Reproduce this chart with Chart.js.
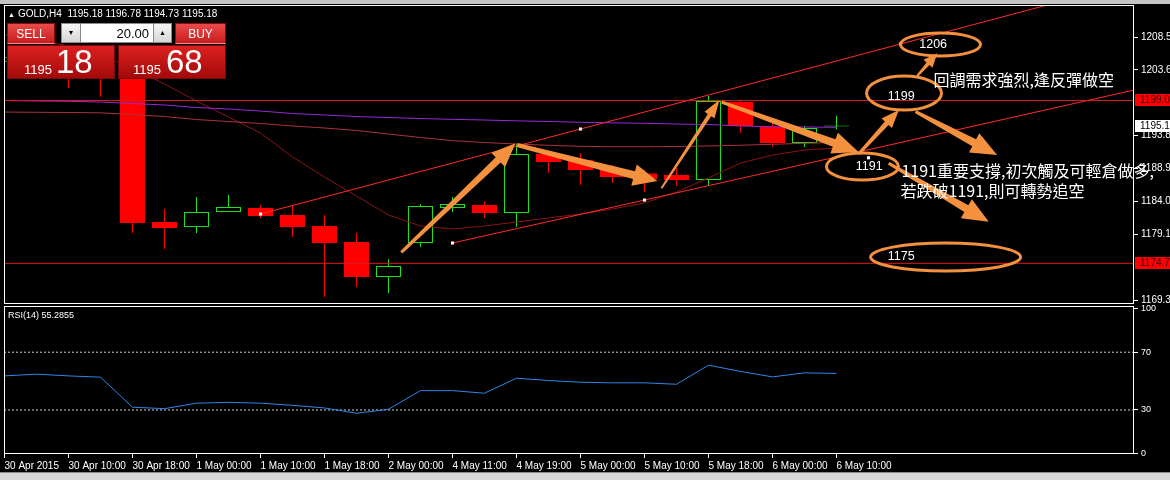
<!DOCTYPE html>
<html lang="zh-Hant">
<head>
<meta charset="utf-8">
<title>GOLD,H4</title>
<script src="https://cdn.jsdelivr.net/npm/chart.js@4.4.1/dist/chart.umd.min.js"></script>
<style>
  html, body { margin: 0; padding: 0; background: #000; }
  #wrap { position: relative; width: 1170px; height: 480px; overflow: hidden; background: #000;
          font-family: "Liberation Sans", Arial, sans-serif; color: #fff; }
  canvas { position: absolute; left: 0; }
  #mainChart { top: 0; }
  #rsiChart { top: 305px; }
  #topStrip { position: absolute; left: 0; top: 0; width: 1170px; height: 4px; background: #c4c4c4; }
  #bottomStrip { position: absolute; left: 0; top: 472px; width: 1170px; height: 8px; background: #d8d8d8;
                 border-top: 1px solid #8c8c8c; box-sizing: border-box; }
  #header { position: absolute; left: 8px; top: 8px; font-size: 10px; line-height: 12px; white-space: nowrap; }
  #header .tri { font-size: 7px; margin-right: 3px; }
  #rsiTitle { position: absolute; left: 8px; top: 310px; font-size: 9px; line-height: 11px; white-space: nowrap; }
  .btn { position: absolute; top: 23px; height: 21px; line-height: 20px; text-align: center; font-size: 12px; color: #fff;
         background: linear-gradient(#e84a4a, #c91d1d); border: 1px solid #8e0b0b; border-bottom-color: #f08a8a; box-sizing: border-box; }
  #sellBtn { left: 7px; width: 48px; }
  #buyBtn { left: 175px; width: 51px; }
  .spin { position: absolute; top: 23px; height: 20px; background: linear-gradient(#f6f6f6, #d6d6d6); border: 1px solid #8a8a8a;
          box-sizing: border-box; color: #000; font-size: 7px; text-align: center; line-height: 18px; }
  #spinDown { left: 61px; width: 20px; }
  #spinUp { left: 153px; width: 19px; }
  #lots { position: absolute; left: 81px; top: 23px; width: 72px; height: 20px; background: #fff; color: #000; font-size: 13px;
          line-height: 19px; text-align: right; padding-right: 4px; box-sizing: border-box;
          border-top: 1px solid #8a8a8a; border-bottom: 1px solid #8a8a8a; }
  .quote { position: absolute; top: 45px; width: 108px; height: 34px; background: linear-gradient(#dc2020, #a30a0a);
           border: 1px solid #7d0606; box-sizing: border-box; }
  .quote span { position: absolute; color: #fff; white-space: nowrap; }
  .quote .small { top: 17px; font-size: 13px; line-height: 13px; }
  .quote .big { top: -1px; font-size: 33px; line-height: 33px; }
  #sellQuote { left: 7px; }
  #buyQuote { left: 118px; }
  #sellQuote .small { left: 16px; }
  #sellQuote .big { left: 48px; }
  #buyQuote .small { left: 14px; }
  #buyQuote .big { left: 47px; }
</style>
</head>
<body>
<div id="wrap">
  <canvas id="mainChart" width="1170" height="305"></canvas>
  <canvas id="rsiChart" width="1170" height="167"></canvas>
  <div id="topStrip"></div>
  <div id="bottomStrip"></div>
  <div id="header"><span class="tri">▲</span>GOLD,H4&nbsp; 1195.18 1196.78 1194.73 1195.18</div>
  <div class="btn" id="sellBtn">SELL</div>
  <div class="spin" id="spinDown">▼</div>
  <div id="lots">20.00</div>
  <div class="spin" id="spinUp">▲</div>
  <div class="btn" id="buyBtn">BUY</div>
  <div class="quote" id="sellQuote"><span class="small">1195</span><span class="big">18</span></div>
  <div class="quote" id="buyQuote"><span class="small">1195</span><span class="big">68</span></div>
  <div id="rsiTitle">RSI(14) 55.2855</div>
</div>
<script>
// bar times shown on the axis (every second H4 bar)
const timeLabels = ['30 Apr 2015', '30 Apr 10:00', '30 Apr 18:00', '1 May 00:00', '1 May 10:00', '1 May 18:00',
  '2 May 00:00', '4 May 11:00', '4 May 19:00', '5 May 00:00', '5 May 10:00', '5 May 18:00', '6 May 00:00', '6 May 10:00'];
const labelBars = [0, 2, 4, 6, 8, 10, 12, 14, 16, 18, 20, 22, 24, 26];

// GOLD H4 candles
const opens  = [1204.8, 1205.5, 1204.6, 1203.2, 1202.6, 1180.93, 1180.18, 1182.42, 1183.02, 1181.97, 1180.33, 1177.95, 1172.73, 1177.80,
  1183.02, 1183.46, 1182.27, 1191.06, 1190.17, 1188.83, 1188.2, 1187.93, 1187.19, 1198.81, 1195.09, 1192.70, 1195.18];
const highs  = [1206.2, 1207.0, 1205.3, 1204.5, 1203.4, 1182.87, 1184.66, 1184.95, 1183.46, 1183.31, 1181.97, 1179.29, 1175.41, 1183.61,
  1184.66, 1184.06, 1192.55, 1191.21, 1191.21, 1189.42, 1188.68, 1188.98, 1199.71, 1199.11, 1195.83, 1195.24, 1196.78];
const lows   = [1203.6, 1203.9, 1200.9, 1199.56, 1179.29, 1176.91, 1179.29, 1182.42, 1181.53, 1178.69, 1169.75, 1171.24, 1170.35, 1177.20,
  1182.42, 1181.53, 1180.18, 1188.23, 1186.44, 1186.74, 1185.40, 1186.29, 1186.29, 1194.19, 1192.11, 1192.11, 1194.73];
const closes = [1205.5, 1204.6, 1203.2, 1202.6, 1180.78, 1180.03, 1182.42, 1183.17, 1181.82, 1180.18, 1177.80, 1172.73, 1174.37, 1183.31,
  1183.61, 1182.27, 1191.06, 1189.87, 1188.68, 1187.64, 1187.3, 1187.19, 1198.96, 1195.24, 1192.70, 1194.94, 1195.18];

// moving averages
const maSlow = [1199.04, 1198.96, 1198.92, 1198.81, 1198.59, 1198.37, 1197.99, 1197.77, 1197.47, 1197.10, 1196.88, 1196.65, 1196.50, 1196.35,
  1196.23, 1196.13, 1196.01, 1195.91, 1195.79, 1195.71, 1195.64, 1195.53, 1195.46, 1195.24, 1195.13, 1195.09, 1195.04];
const maMid = [1197.32, 1197.28, 1197.25, 1197.20, 1196.95, 1196.65, 1196.20, 1195.91, 1195.61, 1195.24, 1194.94, 1194.57, 1194.04, 1193.52,
  1193.05, 1192.78, 1192.55, 1192.36, 1192.21, 1192.15, 1192.15, 1192.18, 1192.26, 1192.37, 1192.51, 1192.66, 1192.78];
const maFast = [1208.80, 1208.05, 1207.16, 1205.82, 1203.88, 1201.50, 1198.96, 1196.58, 1194.19, 1190.62, 1187.64, 1184.80, 1181.97, 1180.33,
  1179.89, 1180.33, 1180.93, 1181.53, 1182.12, 1182.87, 1183.76, 1185.40, 1187.49, 1189.72, 1190.91, 1191.66, 1191.96];

// RSI(14)
const rsiValues = [53.6, 54.8, 53.6, 52.7, 31.9, 30.9, 34.7, 35.3, 34.7, 33.2, 31.4, 27.7, 30.5, 43.4,
  43.4, 41.6, 52.0, 50.4, 49.2, 48.8, 48.8, 47.8, 61.0, 56.7, 52.9, 55.7, 55.3];
const rsiLevels = [70, 30];
const rsiTicks = [100, 70, 30, 0];

// price axis
const priceTicks = [1208.5, 1203.6, 1193.8, 1188.9, 1184.0, 1179.1, 1169.3];
const hLevels = [1199.04, 1174.77];
const bidPrice = 1195.18;

// drawn objects: trend channel (bar index, price)
const upperChannel = [[8, 1182.12], [18, 1194.79], [28, 1207.46], [34, 1215.06]];
const lowerChannel = [[14, 1177.8], [20, 1184.2], [35.3, 1200.6]];
const anchorPoints = [[8, 1182.12], [18, 1194.79], [28, 1207.46], [14, 1177.8], [20, 1184.2], [27, 1190.5]];

// hand-drawn arrows, circles and notes (bar index, price)
const arrowTails = [[12.40, 1176.41], [16.02, 1192.40], [20.53, 1185.95], [22.41, 1198.81],
  [26.69, 1191.06], [28.52, 1202.69], [28.47, 1197.37], [27.63, 1189.68]];
const arrowTips = [[15.97, 1192.66], [20.40, 1187.04], [22.34, 1199.11], [26.69, 1191.36],
  [27.95, 1197.62], [29.15, 1206.07], [31.02, 1190.91], [30.76, 1180.97]];
const circleCenters = [[29.25, 1207.38], [28.11, 1200.15], [26.81, 1189.2], [29.41, 1175.71]];
const circleLabels = ['1206', '1199', '1191', '1175'];
const circleLabelSpots = [[29.02, 1207.31], [28.02, 1199.56], [27.02, 1189.13], [28.02, 1175.71]];
const noteTexts = ['回調需求強烈,逢反彈做空', '1191重要支撐,初次觸及可輕倉做多,', '若跌破1191,則可轉勢追空'];
const noteSpots = [[29.03, 1202.09], [28.03, 1188.53], [28.0, 1185.55]];

// look
const bull = '#1ee01e', bear = '#ff0000', orange = '#f4913f';
const arrowSizes = [[3, 7, 20, 24], [4, 8, 22, 24], [2, 4, 12, 18], [3, 8, 22, 26],
  [3, 5, 14, 18], [2, 4, 12, 14], [3, 8, 22, 26], [3, 8, 22, 26]];
const circleRadii = [[40, 11.5], [37.5, 17], [36, 13.5], [75, 14]];
const xMin = -0.015625, xMax = 35.296875;

Chart.defaults.font.family = '"Liberation Sans", Arial, sans-serif';
Chart.defaults.font.size = 10;
Chart.defaults.color = '#fff';

const pts = arr => arr.map((v, i) => ({ x: i, y: v }));
const pairs = arr => arr.map(p => ({ x: p[0], y: p[1] }));
const flat = v => [{ x: xMin, y: v }, { x: xMax, y: v }];
const up = i => closes[i] >= opens[i];

function lineSet(data, color, extra) {
  return Object.assign({ type: 'line', data: data, borderColor: color, borderWidth: 1, pointRadius: 0,
    pointHoverRadius: 0, tension: 0, fill: false, order: 0 }, extra || {});
}

const framePlugin = {
  id: 'frame',
  afterDatasetsDraw(chart) {
    const a = chart.chartArea, ctx = chart.ctx;
    ctx.save();
    ctx.strokeStyle = '#fff';
    ctx.lineWidth = 1;
    ctx.strokeRect(Math.round(a.left) + 0.5, Math.round(a.top) + 0.5,
      Math.round(a.right - a.left) - 1, Math.round(a.bottom - a.top) - 1);
    ctx.restore();
  }
};

function drawArrow(ctx, x0, y0, x1, y1, tailW, neckW, headW, headL) {
  const dx = x1 - x0, dy = y1 - y0, len = Math.hypot(dx, dy);
  const ux = dx / len, uy = dy / len, nx = -uy, ny = ux;
  const bx = x1 - ux * headL, by = y1 - uy * headL;
  ctx.beginPath();
  ctx.moveTo(x0 + nx * tailW / 2, y0 + ny * tailW / 2);
  ctx.lineTo(bx + nx * neckW / 2, by + ny * neckW / 2);
  ctx.lineTo(bx + nx * headW / 2, by + ny * headW / 2);
  ctx.lineTo(x1, y1);
  ctx.lineTo(bx - nx * headW / 2, by - ny * headW / 2);
  ctx.lineTo(bx - nx * neckW / 2, by - ny * neckW / 2);
  ctx.lineTo(x0 - nx * tailW / 2, y0 - ny * tailW / 2);
  ctx.closePath();
  ctx.fill();
}

// price tags on the right axis
const tagPlugin = {
  id: 'tags',
  afterDatasetsDraw(chart) {
    const ctx = chart.ctx, y = chart.scales.y, left = chart.chartArea.right + 1;
    const tags = [[hLevels[0], '#ff0000', '#3a0000'], [bidPrice, '#ffffff', '#000000'], [hLevels[1], '#ff0000', '#3a0000']];
    ctx.save();
    ctx.font = '10px "Liberation Sans", Arial, sans-serif';
    ctx.textBaseline = 'middle';
    ctx.textAlign = 'left';
    tags.forEach(t => {
      const py = Math.round(y.getPixelForValue(t[0]));
      ctx.fillStyle = t[1];
      ctx.fillRect(left, py - 6, chart.width - left, 12);
      ctx.fillStyle = t[2];
      ctx.fillText(t[0].toFixed(2), left + 5, py + 0.5);
    });
    ctx.restore();
  }
};

const notesPlugin = {
  id: 'notes',
  afterDatasetsDraw(chart) {
    const ctx = chart.ctx, x = chart.scales.x, y = chart.scales.y;
    const px = v => x.getPixelForValue(v), py = v => y.getPixelForValue(v);
    ctx.save();
    ctx.fillStyle = orange;
    arrowTails.forEach((t, i) => {
      const h = arrowTips[i], s = arrowSizes[i];
      drawArrow(ctx, px(t[0]), py(t[1]), px(h[0]), py(h[1]), s[0], s[1], s[2], s[3]);
    });
    ctx.strokeStyle = orange;
    ctx.lineWidth = 3;
    circleCenters.forEach((c, i) => {
      ctx.beginPath();
      ctx.ellipse(px(c[0]), py(c[1]), circleRadii[i][0], circleRadii[i][1], 0, 0, Math.PI * 2);
      ctx.stroke();
    });
    ctx.fillStyle = '#fff';
    ctx.textAlign = 'center';
    ctx.textBaseline = 'middle';
    ctx.font = '12.5px "Liberation Sans", Arial, sans-serif';
    circleLabels.forEach((t, i) => {
      ctx.fillText(t, px(circleLabelSpots[i][0]), py(circleLabelSpots[i][1]));
    });
    ctx.textAlign = 'left';
    ctx.font = '16px "Noto Sans CJK TC", "Noto Sans CJK SC", sans-serif';
    noteTexts.forEach((t, i) => {
      ctx.fillText(t, px(noteSpots[i][0]), py(noteSpots[i][1]));
    });
    ctx.restore();
  }
};

const fixAxis = w => s => {
  s.width = w;
  s.paddingTop = 0; s.paddingBottom = 0; s.paddingLeft = 0; s.paddingRight = 0;
};

new Chart(document.getElementById('mainChart'), {
  type: 'bar',
  data: {
    datasets: [
      lineSet(pairs(anchorPoints), '#ffffff', { showLine: false, pointRadius: 2.2, pointStyle: 'rect',
        pointBackgroundColor: '#ffffff', pointBorderColor: '#ffffff', pointBorderWidth: 0, order: -1 }),
      lineSet(flat(hLevels[0]), '#dc1a1a'),
      lineSet(flat(hLevels[1]), '#dc1a1a'),
      lineSet(pairs(upperChannel), '#ff2b2b'),
      lineSet(pairs(lowerChannel), '#ff2b2b'),
      lineSet(pts(maSlow), '#9a28d8'),
      lineSet(pts(maMid), '#a8323c'),
      lineSet(pts(maFast), '#8c1414'),
      {
        type: 'bar',
        data: opens.map((o, i) => ({ x: i, y: [Math.min(o, closes[i]), Math.max(o, closes[i])] })),
        backgroundColor: opens.map((o, i) => up(i) ? '#000000' : bear),
        borderColor: opens.map((o, i) => up(i) ? bull : bear),
        borderWidth: 1, borderSkipped: false, barThickness: 25, minBarLength: 1,
        grouped: false, inflateAmount: 0, order: 1
      },
      {
        type: 'bar',
        data: opens.map((o, i) => ({ x: i, y: [lows[i], highs[i]] })),
        backgroundColor: opens.map((o, i) => up(i) ? bull : bear),
        borderWidth: 0, barThickness: 1, grouped: false, inflateAmount: 0, order: 2
      }
    ]
  },
  options: {
    responsive: false,
    animation: false,
    events: [],
    layout: { autoPadding: false, padding: { left: 4, top: 5, right: 0, bottom: 1 } },
    plugins: { legend: { display: false }, tooltip: { enabled: false } },
    scales: {
      x: { type: 'linear', min: xMin, max: xMax, offset: false, display: false, grid: { offset: false } },
      y: {
        position: 'right', min: 1168.71, max: 1213.27,
        afterFit: fixAxis(36),
        afterBuildTicks: s => { s.ticks = priceTicks.map(v => ({ value: v })); },
        ticks: { color: '#fff', padding: 3, callback: v => Number(v).toFixed(2) },
        grid: { drawOnChartArea: false, drawTicks: true, tickLength: 4, color: '#fff' },
        border: { display: false }
      }
    }
  },
  plugins: [framePlugin, tagPlugin, notesPlugin]
});

new Chart(document.getElementById('rsiChart'), {
  type: 'line',
  data: {
    datasets: [
      lineSet(pts(rsiValues), '#2f86e8'),
      lineSet(flat(rsiLevels[0]), '#d0d0d0', { borderDash: [2, 2] }),
      lineSet(flat(rsiLevels[1]), '#d0d0d0', { borderDash: [2, 2] })
    ]
  },
  options: {
    responsive: false,
    animation: false,
    events: [],
    layout: { autoPadding: false, padding: { left: 4, top: 1, right: 0, bottom: 0 } },
    plugins: { legend: { display: false }, tooltip: { enabled: false } },
    scales: {
      x: {
        type: 'linear', min: xMin, max: xMax, offset: false,
        afterFit: s => { s.height = 18; s.paddingLeft = 0; s.paddingRight = 0; },
        afterBuildTicks: s => { s.ticks = labelBars.map(v => ({ value: v })); },
        ticks: { color: '#fff', align: 'start', maxRotation: 0, autoSkip: false, padding: 2,
          callback: (v, i) => timeLabels[i] },
        grid: { drawOnChartArea: false, drawTicks: true, tickLength: 4, color: '#fff', offset: false },
        border: { display: false }
      },
      y: {
        position: 'right', min: -0.5, max: 102,
        afterFit: fixAxis(36),
        afterBuildTicks: s => { s.ticks = rsiTicks.map(v => ({ value: v })); },
        ticks: { color: '#fff', padding: 3, font: { size: 9 } },
        grid: { drawOnChartArea: false, drawTicks: true, tickLength: 4, color: '#fff' },
        border: { display: false }
      }
    }
  },
  plugins: [framePlugin]
});
</script>
</body>
</html>
